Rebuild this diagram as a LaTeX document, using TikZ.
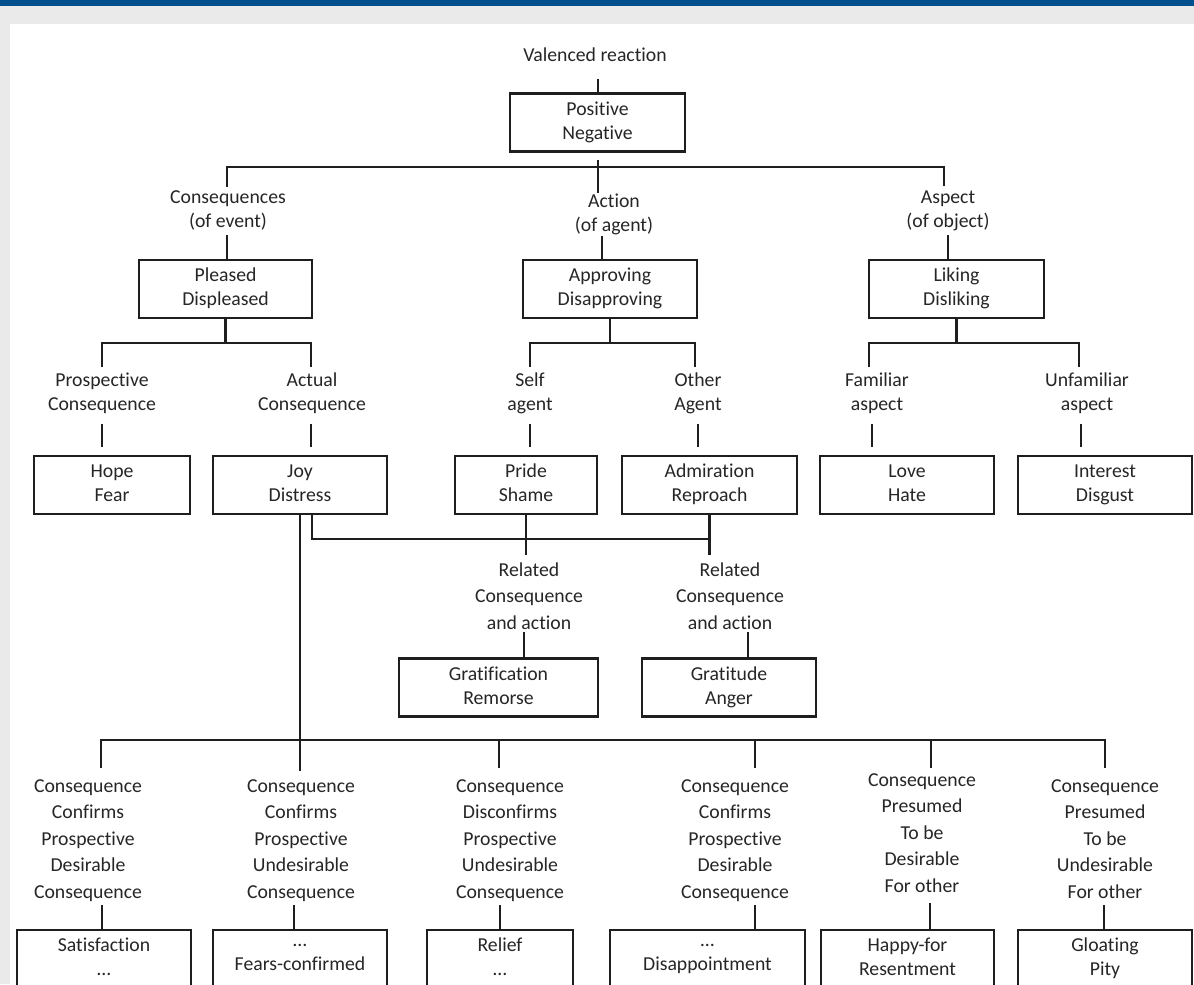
\documentclass[tikz,border=0pt]{standalone}
\usepackage{fontspec}
\setmainfont{Carlito}[Ligatures=NoCommon]
\definecolor{bluebar}{HTML}{03508F}
\definecolor{graybg}{HTML}{EAEAEA}
\definecolor{ink}{HTML}{1E1E1E}
\definecolor{txt}{HTML}{262626}
\newcommand\mystrut{\rule[-3.15pt]{0pt}{18pt}}
\begin{document}
\begin{tikzpicture}[x=0.75pt,y=-0.75pt,
  every node/.style={font=\fontsize{14.8}{18}\selectfont, text=txt, inner sep=0pt, outer sep=0pt, align=center,
    execute at begin node=\mystrut, execute at end node=\mystrut},
  bx/.style={draw=ink, line width=1.6pt, minimum width=#1*0.75pt, minimum height=58*0.75pt},
  five/.style={font=\fontsize{14.8}{19.9}\selectfont},
  ln/.style={draw=ink, line width=1.6pt},
  gap/.style={ln, shorten >=6.75pt}]
\useasboundingbox (0,0) rectangle (1194,984);
\fill[graybg] (0,0) rectangle (1194,984);
\fill[white] (10,24) rectangle (1194,984);
\fill[bluebar] (0,0) rectangle (1194,6);

% ---- nodes
\node (vr) at (595,54) {Valenced reaction};
\node[bx=175] (pn) at (597.5,122.5) {Positive\\Negative};
\node (cons) at (228,211) {Consequences\\(of event)};
\node (act) at (614,215) {Action\\(of agent)};
\node (asp) at (948,211) {Aspect\\(of object)};
\node[bx=173] (pd) at (225.5,289) {Pleased\\Displeased};
\node[bx=174] (ad) at (610,289) {Approving\\Disapproving};
\node[bx=175] (ld) at (956.5,289) {Liking\\Disliking};
\node (pc) at (102,394) {Prospective\\Consequence};
\node (ac) at (312,394) {Actual\\Consequence};
\node (sa) at (530,394) {Self\\agent};
\node (oa) at (698,394) {Other\\Agent};
\node (fa) at (877,394) {Familiar\\aspect};
\node (ua) at (1087,394) {Unfamiliar\\aspect};
\node[bx=156] (hf) at (112,485) {Hope\\Fear};
\node[bx=174] (jd) at (300,485) {Joy\\Distress};
\node[bx=142] (ps) at (526,485) {Pride\\Shame};
\node[bx=175] (ar) at (709.5,485) {Admiration\\Reproach};
\node[bx=174] (lh) at (907,485) {Love\\Hate};
\node[bx=174] (idg) at (1105,485) {Interest\\Disgust};
\node[five] (rc1) at (529,598) {Related\\Consequence\\and action};
\node[five] (rc2) at (730,598) {Related\\Consequence\\and action};
\node[bx=199] (gr) at (498.5,687.5) {Gratification\\Remorse};
\node[bx=174] (ga) at (729,687.5) {Gratitude\\Anger};
\node[five] (c1) at (88,841) {Consequence\\Confirms\\Prospective\\Desirable\\Consequence};
\node[five] (c2) at (301,841) {Consequence\\Confirms\\Prospective\\Undesirable\\Consequence};
\node[five] (c3) at (510,841) {Consequence\\Disconfirms\\Prospective\\Undesirable\\Consequence};
\node[five] (c4) at (735,841) {Consequence\\Confirms\\Prospective\\Desirable\\Consequence};
\node[five] (c5) at (922,835) {Consequence\\Presumed\\To be\\Desirable\\For other};
\node[five] (c6) at (1105,841) {Consequence\\Presumed\\To be\\Undesirable\\For other};
\node[bx=174] (b1) at (104,959) {Satisfaction\\…};
\node[bx=174] (b2) at (300,959) {…\\Fears-confirmed};
\node[bx=146] (b3) at (500,959) {Relief\\…};
\node[bx=195] (b4) at (707.5,959) {…\\Disappointment};
\node[bx=173] (b5) at (907.5,959) {Happy-for\\Resentment};
\node[bx=174] (b6) at (1105,959) {Gloating\\Pity};

% ---- junction coordinates
\coordinate (vrB) at (598,79);
\coordinate (pnB) at (598,160);
\coordinate (forkT) at (598,167);
\coordinate (actT) at (598,193);
\coordinate (consT) at (227,187);
\coordinate (aspT) at (944,186);
\coordinate (consB) at (227,235);
\coordinate (actB) at (602,236);
\coordinate (aspB) at (948,235);
\coordinate (pdF) at (225.5,343);
\coordinate (adF) at (610,343);
\coordinate (ldF) at (956.5,343);
\coordinate (pcT) at (102,367);
\coordinate (acT) at (311,367);
\coordinate (saT) at (530,367);
\coordinate (oaT) at (695,367);
\coordinate (faT) at (869,367);
\coordinate (uaT) at (1079,367);
\coordinate (pcB) at (102,424);
\coordinate (acB) at (311,424);
\coordinate (saB) at (530,424);
\coordinate (oaB) at (698,424);
\coordinate (faB) at (872,424);
\coordinate (uaB) at (1081,424);
\coordinate (relF) at (312,539);
\coordinate (relT) at (0,555);
\coordinate (rc1B) at (524,632);
\coordinate (rc2B) at (748,632);
\coordinate (botF) at (300,740);
\coordinate (c1T) at (101,768);
\coordinate (c2T) at (300,771);
\coordinate (c3T) at (499,768);
\coordinate (c4T) at (755,768);
\coordinate (c5T) at (931,768);
\coordinate (c6T) at (1105,768);
\coordinate (c1B) at (102,905);
\coordinate (c2B) at (294,905);
\coordinate (c3B) at (500,905);
\coordinate (c4B) at (755,905);
\coordinate (c5B) at (930,903);
\coordinate (c6B) at (1104,905);

% ---- connectors
\draw[ln] (vrB) -- (vrB |- pn.north);
\draw[ln] (pnB) -- (actT);
\draw[ln] (consT) |- (forkT) -| (aspT);
\draw[ln] (consB) -- (consB |- pd.north);
\draw[ln] (actB) -- (actB |- ad.north);
\draw[ln] (aspB) -- (aspB |- ld.north);
\draw[ln] (pd.south) -- (pdF);
\draw[ln] (pcT) |- (pdF) -| (acT);
\draw[ln] (ad.south) -- (adF);
\draw[ln] (saT) |- (adF) -| (oaT);
\draw[ln] (ld.south) -- (ldF);
\draw[ln] (faT) |- (ldF) -| (uaT);
\draw[gap] (pcB) -- (pcB |- hf.north);
\draw[gap] (acB) -- (acB |- jd.north);
\draw[gap] (saB) -- (saB |- ps.north);
\draw[gap] (oaB) -- (oaB |- ar.north);
\draw[gap] (faB) -- (faB |- lh.north);
\draw[gap] (uaB) -- (uaB |- idg.north);
\draw[ln] (relF |- jd.south) -- (relF) -- (relF -| ar.south);
\draw[ln] (ps.south) -- (ps.south |- relT);
\draw[ln] (ar.south) -- (ar.south |- relT);
\draw[ln] (rc1B) -- (rc1B |- gr.north);
\draw[ln] (rc2B) -- (rc2B |- ga.north);
\draw[ln] (jd.south) -- (c2T);
\draw[ln] (c1T) |- (botF) -| (c6T);
\draw[ln] (c3T |- botF) -- (c3T);
\draw[ln] (c4T |- botF) -- (c4T);
\draw[ln] (c5T |- botF) -- (c5T);
\draw[ln] (c1B) -- (c1B |- b1.north);
\draw[ln] (c2B) -- (c2B |- b2.north);
\draw[ln] (c3B) -- (c3B |- b3.north);
\draw[ln] (c4B) -- (c4B |- b4.north);
\draw[ln] (c5B) -- (c5B |- b5.north);
\draw[ln] (c6B) -- (c6B |- b6.north);
\end{tikzpicture}
\end{document}
